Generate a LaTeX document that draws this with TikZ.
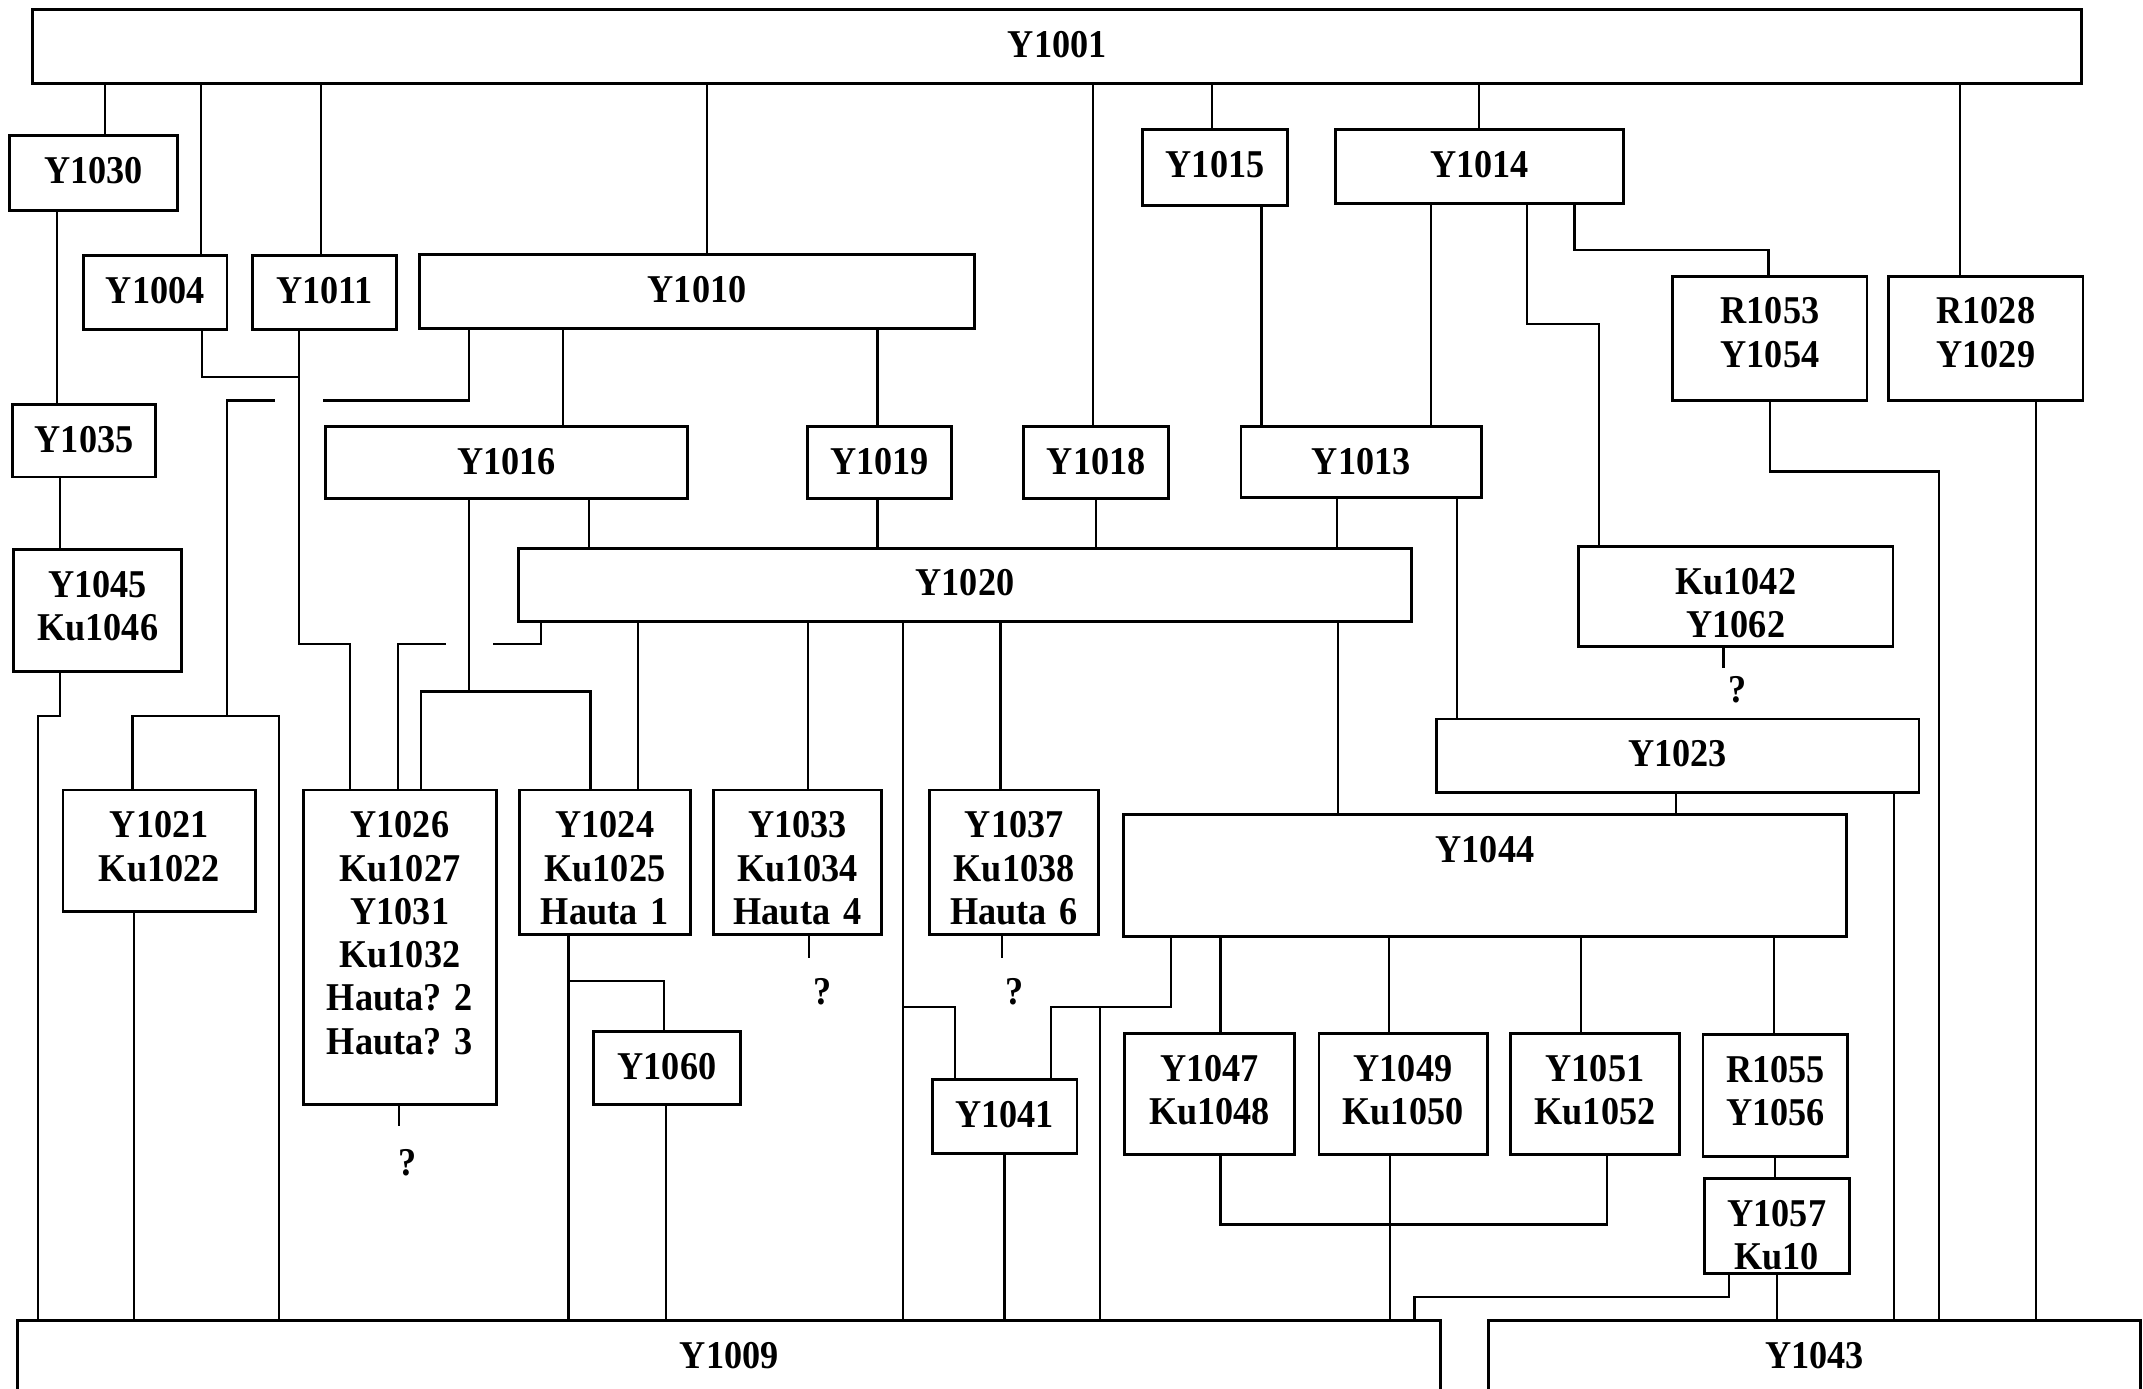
\documentclass[tikz,border=0pt]{standalone}
\usepackage{fontspec}
\setmainfont{Liberation Serif}[FakeStretch=0.92]
\frenchspacing

\begin{document}
\begin{tikzpicture}[
  x=0.1mm, y=-0.1mm,
  unit/.style={draw, line width=0.6pt, anchor=north west, inner sep=0pt,
               align=center, text height=3.5mm,
               font=\fontsize{8.2}{9}\selectfont\bfseries},
  query/.style={anchor=north, inner sep=0pt,
                font=\fontsize{8.2}{9}\selectfont\bfseries},
  link/.style={line width=0.45pt}
]
  \useasboundingbox (0,0) rectangle (1568,1016);
  \clip (0,0) rectangle (1568,1016);

  \node[unit, text width=149.9mm, text depth=1.9mm] (Y1001) at (23,6) {Y1001};
  \node[unit, text width=12.3mm, text depth=2mm] (Y1030) at (6,98) {Y1030};
  \node[unit, text width=10.5mm, text depth=1.9mm] (Y1004) at (60,186) {Y1004};
  \node[unit, text width=10.5mm, text depth=1.9mm] (Y1011) at (184,186) {Y1011};
  \node[unit, text width=40.6mm, text depth=1.9mm] (Y1010) at (306,185) {Y1010};
  \node[unit, text width=10.6mm, text depth=2mm] (Y1015) at (835,94) {Y1015};
  \node[unit, text width=21.1mm, text depth=1.9mm] (Y1014) at (976,94) {Y1014};
  \node[unit, text width=14.2mm, text depth=5.6mm] (R1053) at (1223,201) {R1053\\Y1054};
  \node[unit, text width=14.2mm, text depth=5.6mm] (R1028) at (1381,201) {R1028\\Y1029};
  \node[unit, text width=10.5mm, text depth=1.8mm] (Y1035) at (8,295) {Y1035};
  \node[unit, text width=26.5mm, text depth=1.8mm] (Y1016) at (237,311) {Y1016};
  \node[unit, text width=10.5mm, text depth=1.8mm] (Y1019) at (590,311) {Y1019};
  \node[unit, text width=10.6mm, text depth=1.8mm] (Y1018) at (748,311) {Y1018};
  \node[unit, text width=17.6mm, text depth=1.7mm] (Y1013) at (907,311) {Y1013};
  \node[unit, text width=65.4mm, text depth=1.9mm] (Y1020) at (378,400) {Y1020};
  \node[unit, text width=12.3mm, text depth=5.4mm] (Y1045) at (9,401) {Y1045\\Ku1046};
  \node[unit, text width=23.0mm, text depth=3.8mm] (Ku1042) at (1154,399) {Ku1042\\Y1062};
  \node[unit, text width=35.3mm, text depth=1.9mm] (Y1023) at (1050,525) {Y1023};
  \node[unit, text width=14.1mm, text depth=5.4mm] (Y1021) at (45,577) {Y1021\\Ku1022};
  \node[unit, text width=14.1mm, text depth=19.5mm] (Y1026) at (221,577)
    {Y1026\\Ku1027\\Y1031\\Ku1032\\Hauta? 2\\Hauta? 3};
  \node[unit, text width=12.5mm, text depth=7.1mm] (Y1024) at (379,577) {Y1024\\Ku1025\\Hauta 1};
  \node[unit, text width=12.3mm, text depth=7.1mm] (Y1033) at (521,577) {Y1033\\Ku1034\\Hauta 4};
  \node[unit, text width=12.4mm, text depth=7.1mm] (Y1037) at (679,577) {Y1037\\Ku1038\\Hauta 6};
  \node[unit, text width=52.9mm, text depth=5.4mm] (Y1044) at (821,595) {Y1044};
  \node[unit, text width=10.8mm, text depth=1.8mm] (Y1060) at (433,754) {Y1060};
  \node[unit, text width=10.6mm, text depth=1.9mm] (Y1041) at (681,789) {Y1041};
  \node[unit, text width=12.4mm, text depth=5.4mm] (Y1047) at (822,755) {Y1047\\Ku1048};
  \node[unit, text width=12.3mm, text depth=5.4mm] (Y1049) at (964,755) {Y1049\\Ku1050};
  \node[unit, text width=12.4mm, text depth=5.4mm] (Y1051) at (1104,755) {Y1051\\Ku1052};
  \node[unit, text width=10.6mm, text depth=5.4mm] (R1055) at (1245,756) {R1055\\Y1056};
  \node[unit, text width=10.6mm, text depth=3.5mm] (Y1057) at (1246,861) {Y1057\\Ku10};
  \node[unit, text width=104.1mm, text depth=5mm] (Y1009) at (12,965) {Y1009};
  \node[unit, text width=47.7mm, text depth=5mm] (Y1043) at (1088,965) {Y1043};

  \node[query] (Q1026) at (298,840) {?};
  \node[query] (Q1033) at (602,715) {?};
  \node[query] (Q1037) at (742,715) {?};
  \node[query] (Q1042) at (1271,494) {?};

  \draw[link] (Y1001.south -| 77,0) -- (Y1030.north -| 77,0);
  \draw[link] (Y1001.south -| 147,0) -- (Y1004.north -| 147,0);
  \draw[link] (Y1001.south -| 235,0) -- (Y1011.north -| 235,0);
  \draw[link] (Y1001.south -| 517,0) -- (Y1010.north -| 517,0);
  \draw[link] (Y1001.south -| 800,0) -- (Y1018.north -| 800,0);
  \draw[link] (Y1001.south -| 887,0) -- (Y1015.north -| 887,0);
  \draw[link] (Y1001.south -| 1082,0) -- (Y1014.north -| 1082,0);
  \draw[link] (Y1001.south -| 1434,0) -- (R1028.north -| 1434,0);

  \draw[link] (Y1030.south -| 42,0) -- (Y1035.north -| 42,0);
  \draw[link] (Y1035.south -| 44,0) -- (Y1045.north -| 44,0);
  \draw[link] (Y1045.south -| 44,0) |- (28,524) -- (Y1009.north -| 28,0);
  \draw[link] (Y1004.south -| 148,0) |- (219,276);
  \draw[link] (Y1011.south -| 219,0) |- (256,471) -- (Y1026.north -| 256,0);
  \draw[link] (Y1010.south -| 343,0) |- (236,293) (201,293) -| (166,524);
  \draw[link] (Y1021.north -| 97,0) |- (204,524) -- (Y1009.north -| 204,0);
  \draw[link] (Y1010.south -| 412,0) -- (Y1016.north -| 412,0);
  \draw[link] (Y1010.south -| 642,0) -- (Y1019.north -| 642,0);
  \draw[link] (Y1016.south -| 431,0) -- (Y1020.north -| 431,0);
  \draw[link] (Y1016.south -| 343,0) -- (343,506);
  \draw[link] (Y1026.north -| 308,0) |- (432,506) -- (Y1024.north -| 432,0);
  \draw[link] (Y1020.south -| 396,0) |- (361,471) (326,471) -| (Y1026.north -| 291,0);
  \draw[link] (Y1020.south -| 467,0) -- (Y1024.north -| 467,0);
  \draw[link] (Y1020.south -| 591,0) -- (Y1033.north -| 591,0);
  \draw[link] (Y1020.south -| 661,0) -- (Y1009.north -| 661,0);
  \draw[link] (661,737) -| (Y1041.north -| 699,0);
  \draw[link] (Y1020.south -| 732,0) -- (Y1037.north -| 732,0);
  \draw[link] (Y1020.south -| 979,0) -- (Y1044.north -| 979,0);
  \draw[link] (Y1019.south -| 642,0) -- (Y1020.north -| 642,0);
  \draw[link] (Y1018.south -| 802,0) -- (Y1020.north -| 802,0);
  \draw[link] (Y1013.south -| 978,0) -- (Y1020.north -| 978,0);
  \draw[link] (Y1015.south -| 923,0) -- (Y1013.north -| 923,0);
  \draw[link] (Y1014.south -| 1047,0) -- (Y1013.north -| 1047,0);
  \draw[link] (Y1014.south -| 1117,0) |- (1170,237) -- (Ku1042.north -| 1170,0);
  \draw[link] (Y1014.south -| 1152,0) |- (1294,183) -- (R1053.north -| 1294,0);
  \draw[link] (R1053.south -| 1295,0) |- (1419,345) -- (Y1043.north -| 1419,0);
  \draw[link] (R1028.south -| 1490,0) -- (Y1043.north -| 1490,0);
  \draw[link] (Y1013.south -| 1066,0) -- (Y1023.north -| 1066,0);
  \draw[link] (Y1023.south -| 1226,0) -- (Y1044.north -| 1226,0);
  \draw[link] (Y1023.south -| 1386,0) -- (Y1043.north -| 1386,0);
  \draw[link] (Y1044.south -| 857,0) |- (769,737) -- (Y1041.north -| 769,0);
  \draw[link] (805,737) -- (Y1009.north -| 805,0);
  \draw[link] (Y1044.south -| 893,0) -- (Y1047.north -| 893,0);
  \draw[link] (Y1044.south -| 1016,0) -- (Y1049.north -| 1016,0);
  \draw[link] (Y1044.south -| 1157,0) -- (Y1051.north -| 1157,0);
  \draw[link] (Y1044.south -| 1298,0) -- (R1055.north -| 1298,0);
  \draw[link] (Y1047.south -| 893,0) |- (1176,896) -- (Y1051.south -| 1176,0);
  \draw[link] (Y1049.south -| 1017,0) -- (Y1009.north -| 1017,0);
  \draw[link] (R1055.south -| 1299,0) -- (Y1057.north -| 1299,0);
  \draw[link] (Y1057.south -| 1265,0) |- (1035,949) -- (Y1009.north -| 1035,0);
  \draw[link] (Y1057.south -| 1300,0) -- (Y1043.north -| 1300,0);
  \draw[link] (Y1024.south -| 416,0) -- (Y1009.north -| 416,0);
  \draw[link] (416,718) -| (Y1060.north -| 486,0);
  \draw[link] (Y1060.south -| 487,0) -- (Y1009.north -| 487,0);
  \draw[link] (Y1021.south -| 98,0) -- (Y1009.north -| 98,0);
  \draw[link] (Y1041.south -| 735,0) -- (Y1009.north -| 735,0);

  \draw[link, shorten >=1.6mm] (Y1026.south -| 292,0) -- (292,0 |- Q1026.north);
  \draw[link, shorten >=1.4mm] (Y1033.south -| 592,0) -- (592,0 |- Q1033.north);
  \draw[link, shorten >=1.4mm] (Y1037.south -| 733,0) -- (733,0 |- Q1037.north);
  \draw[link, shorten >=0.5mm] (Ku1042.south -| 1261,0) -- (1261,0 |- Q1042.north);
\end{tikzpicture}
\end{document}
